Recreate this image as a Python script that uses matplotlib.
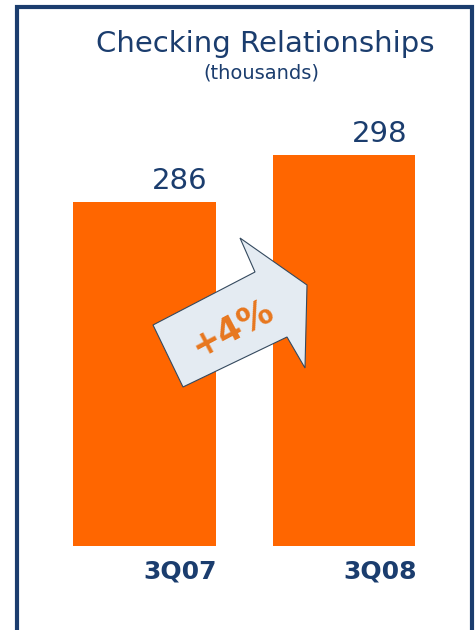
import matplotlib.pyplot as plt
from matplotlib.patches import Rectangle, Polygon

# datos
categories = ["3Q07", "3Q08"]
values = [286, 298]
change_label = "+4%"

navy = "#1b3d6e"
orange = "#ff6600"

W, H = 477, 630
fig = plt.figure(figsize=(W / 100, H / 100), dpi=100)

# marco azul alrededor
fig.patches.append(Rectangle((17 / W, -0.05), 455 / W, (H - 7) / H + 0.05,
                             transform=fig.transFigure, fill=False,
                             edgecolor=navy, linewidth=3))

ax = fig.add_axes([20 / W, (H - 546) / H, 450 / W, 446 / H])
x = list(range(len(categories)))
ax.bar(x, values, width=0.715, color=orange)
ax.set_xlim(-0.62, 1.63)
ax.set_ylim(198, 312)
ax.axis("off")

# etiquetas de valores y categorias (corridas a la derecha como el original)
for i, v in enumerate(values):
    ax.annotate(str(v), (i + 0.18, v), xytext=(0, 5), textcoords="offset points",
                ha="center", va="bottom", fontsize=21, color=navy)
    ax.text(i + 0.18, -0.057, categories[i], transform=ax.get_xaxis_transform(),
            ha="center", va="center", fontsize=18, fontweight="bold", color=navy)

# titulo
fig.text(265 / W, 1 - 44 / H, "Checking Relationships", ha="center", va="center",
         fontsize=21, color=navy)
fig.text(261 / W, 1 - 73 / H, "(thousands)", ha="center", va="center",
         fontsize=14, color=navy)

# flecha de crecimiento
arrow_px = [(153, 325), (255, 272), (240, 238), (307, 285),
            (305, 368), (287, 337), (183, 387)]
arrow = Polygon([(px / W, 1 - py / H) for px, py in arrow_px], closed=True,
                transform=fig.transFigure, facecolor="#e4ebf2",
                edgecolor="#34495e", linewidth=0.8)
fig.patches.append(arrow)
fig.text(232 / W, 1 - 328 / H, change_label, ha="center", va="center",
         rotation=28, fontsize=25, fontweight="bold", color="#e8771e")

fig.savefig("out.png", dpi=100)
